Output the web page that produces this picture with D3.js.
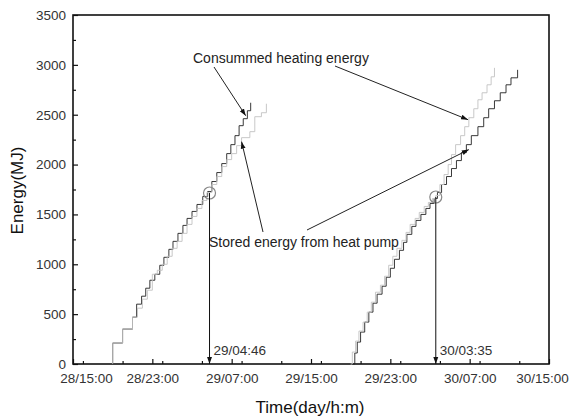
<!DOCTYPE html>
<html>
<head>
<meta charset="utf-8">
<script src="https://cdn.jsdelivr.net/npm/d3@7/dist/d3.min.js"></script>
<style>
  html, body { margin: 0; padding: 0; background: #fff; }
  svg { display: block; }
  text { font-family: "Liberation Sans", Arial, sans-serif; fill: #222; }
</style>
</head>
<body>
<svg id="chart" width="572" height="419"></svg>
<script>
// ---- data -------------------------------------------------------------
// First heating run, 28th evening to 29th morning
const consumedTimes1 = ["28/19:00","28/19:00","28/20:00","28/21:00","28/21:25","28/21:55","28/22:20","28/22:45","28/23:15","28/23:45","29/00:10","29/00:40","29/01:05","29/01:35","29/02:05","29/02:30","29/03:00","29/03:30","29/04:05","29/04:35","29/05:00","29/05:30","29/06:00","29/06:30","29/06:55","29/07:20","29/07:45","29/08:10","29/08:35","29/08:55"];
const consumedValues1 = [0,210,350,470,600,680,760,840,900,990,1070,1150,1230,1310,1390,1460,1530,1600,1680,1730,1830,1920,2010,2110,2200,2290,2390,2460,2540,2620];
const storedTimes1 = ["28/19:00","28/19:00","28/20:00","28/21:00","28/21:30","28/22:00","28/22:30","28/23:00","28/23:30","29/00:00","29/00:30","29/01:00","29/01:30","29/02:00","29/02:30","29/03:00","29/03:30","29/04:00","29/04:30","29/05:00","29/05:30","29/06:00","29/06:30","29/07:00","29/07:30","29/08:00","29/08:50","29/09:20","29/10:00","29/10:30"];
const storedValues1 = [0,210,350,470,560,650,740,900,940,1000,1080,1160,1230,1310,1400,1480,1560,1640,1720,1800,1880,1980,2050,2110,2190,2270,2330,2480,2520,2610];

// Second heating run, 29th evening to 30th morning
const consumedTimes2 = ["29/19:05","29/19:25","29/19:40","29/20:00","29/20:25","29/20:50","29/21:15","29/21:40","29/22:10","29/22:35","29/23:00","29/23:25","29/23:55","30/00:20","30/00:40","30/01:10","30/01:35","30/02:05","30/02:35","30/03:00","30/03:25","30/03:45","30/04:10","30/04:40","30/05:10","30/05:40","30/06:10","30/06:40","30/07:10","30/07:50","30/08:25","30/08:55","30/09:30","30/10:05","30/10:40","30/11:10","30/11:50"];
const consumedValues2 = [0,110,220,320,420,520,610,700,780,870,960,1050,1140,1220,1300,1380,1440,1500,1560,1610,1660,1720,1800,1880,1960,2040,2120,2200,2290,2380,2470,2560,2640,2720,2800,2870,2950];
const storedTimes2 = ["29/19:00","29/19:10","29/19:30","29/19:50","29/20:15","29/20:40","29/21:05","29/21:30","29/22:00","29/22:25","29/22:50","29/23:15","29/23:40","30/00:10","30/00:35","30/01:00","30/01:30","30/01:55","30/02:25","30/02:50","30/03:15","30/03:35","30/04:00","30/04:25","30/04:50","30/05:10","30/05:35","30/06:05","30/06:30","30/06:55","30/07:25","30/07:50","30/08:15","30/08:45","30/09:10","30/09:30"];
const storedValues2 = [0,120,230,330,420,520,620,720,790,880,990,1080,1160,1240,1320,1400,1460,1520,1580,1620,1660,1690,1800,1900,2000,2100,2200,2290,2380,2470,2560,2650,2720,2800,2880,2970];

// Axis ranges and ticks
const timeStart = "28/15:00", timeEnd = "30/15:00";
const xTickLabels = ["28/15:00","28/23:00","29/07:00","29/15:00","29/23:00","30/07:00","30/15:00"];
const energyMax = 3500;
const yTicks = [0,500,1000,1500,2000,2500,3000,3500];

// Marked crossover instants
const markTimes = ["29/04:46","30/03:35"];
const markValues = [1715, 1675];

// ---- layout -----------------------------------------------------------
const svg = d3.select("#chart");
const m = { left: 73, right: 549, top: 15, bottom: 364 };
const parse = d3.timeParse("%d/%H:%M");
const fmt = d3.timeFormat("%d/%H:%M");
const tickFont = 13.5;

const x = d3.scaleTime().domain([parse(timeStart), parse(timeEnd)]).range([m.left, m.right]);
const y = d3.scaleLinear().domain([0, energyMax]).range([m.bottom, m.top]);

// minor ticks every 4 hours, major every 8 hours
const minorTimes = d3.timeHour.every(4).range(parse(timeStart), d3.timeMinute.offset(parse(timeEnd), 1));
const majorTimes = xTickLabels.map(parse);

const xAxisMinor = d3.axisBottom(x).tickValues(minorTimes).tickSize(-3).tickFormat("");
const xAxis = d3.axisBottom(x).tickValues(majorTimes).tickSize(-5).tickPadding(9).tickFormat(fmt);

svg.append("g").attr("transform", `translate(0,${m.bottom})`).call(xAxisMinor)
  .call(g => g.select(".domain").remove())
  .call(g => g.selectAll("line").attr("stroke", "#111").attr("stroke-width", 1.2));
const gx = svg.append("g").attr("transform", `translate(0,${m.bottom})`).call(xAxis);
gx.select(".domain").remove();
gx.selectAll("line").attr("stroke", "#111").attr("stroke-width", 1.2);
gx.selectAll("text").attr("font-size", tickFont).style("fill", "#333");
gx.selectAll("text").filter((d, i) => i === 0).attr("dx", 13);
gx.selectAll("text").filter((d, i, n) => i === n.length - 1).attr("dx", -7);

const yMinor = d3.range(250, energyMax, 500);
svg.append("g").attr("transform", `translate(${m.left},0)`)
  .call(d3.axisLeft(y).tickValues(yMinor).tickSize(-3).tickFormat(""))
  .call(g => g.select(".domain").remove())
  .call(g => g.selectAll("line").attr("stroke", "#111").attr("stroke-width", 1.2));
const gy = svg.append("g").attr("transform", `translate(${m.left},0)`)
  .call(d3.axisLeft(y).tickValues(yTicks).tickSize(-5).tickPadding(7).tickFormat(d3.format("d")));
gy.select(".domain").remove();
gy.selectAll("line").attr("stroke", "#111").attr("stroke-width", 1.2);
gy.selectAll("text").attr("font-size", tickFont).style("fill", "#333");

// frame
svg.append("rect")
  .attr("x", m.left).attr("y", m.top)
  .attr("width", m.right - m.left).attr("height", m.bottom - m.top)
  .attr("fill", "none").attr("stroke", "#111").attr("stroke-width", 1.6);

// axis titles
svg.append("text").attr("x", 310).attr("y", 413)
  .attr("text-anchor", "middle").attr("font-size", 17).style("fill", "#111")
  .text("Time(day/h:m)");
svg.append("text").attr("transform", `translate(23,${(m.top + m.bottom) / 2 + 1}) rotate(-90)`)
  .attr("text-anchor", "middle").attr("font-size", 17).style("fill", "#111")
  .text("Energy(MJ)");

// ---- series -----------------------------------------------------------
const line = d3.line().x(d => x(d[0])).y(d => y(d[1])).curve(d3.curveStepAfter);
const pairs = (ts, vs) => ts.map((t, i) => [parse(t), vs[i]]);

const series = [
  { data: pairs(consumedTimes1, consumedValues1), color: "#222" },
  { data: pairs(consumedTimes2, consumedValues2), color: "#222" },
  { data: pairs(storedTimes1, storedValues1), color: "#c2c2c2" },
  { data: pairs(storedTimes2, storedValues2), color: "#c2c2c2" }
];
svg.append("g").selectAll("path").data(series).join("path")
  .attr("d", d => line(d.data))
  .attr("fill", "none").attr("stroke", d => d.color).attr("stroke-width", 0.9);

// ---- annotations ------------------------------------------------------
const defs = svg.append("defs");
defs.append("marker").attr("id", "head").attr("viewBox", "0 0 10 10")
  .attr("refX", 10).attr("refY", 5).attr("markerWidth", 7).attr("markerHeight", 7)
  .attr("orient", "auto-start-reverse")
  .append("path").attr("d", "M0,1.5 L10,5 L0,8.5 Z").attr("fill", "#111");

markTimes.forEach((t, i) => {
  const cx = x(parse(t)), cy = y(markValues[i]);
  svg.append("circle").attr("cx", cx).attr("cy", cy).attr("r", 6)
    .attr("fill", "none").attr("stroke", "#888").attr("stroke-width", 1.2);
  svg.append("line").attr("x1", cx).attr("y1", cy).attr("x2", cx).attr("y2", m.bottom)
    .attr("stroke", "#111").attr("stroke-width", 1).attr("marker-end", "url(#head)");
  svg.append("text").attr("x", cx + 4).attr("y", m.bottom - 9)
    .attr("font-size", tickFont).style("fill", "#333").text(t);
});

// callout labels with leader arrows
const arrow = (x1, y1, x2, y2) => svg.append("line")
  .attr("x1", x1).attr("y1", y1).attr("x2", x2).attr("y2", y2)
  .attr("stroke", "#222").attr("stroke-width", 1).attr("marker-end", "url(#head)");

svg.append("text").attr("x", 193).attr("y", 63).attr("font-size", 14).style("fill", "#222")
  .text("Consummed heating energy");
arrow(214, 67, x(parse("29/08:25")), y(2490));
arrow(335, 66, x(parse("30/06:50")), y(2450));

svg.append("text").attr("x", 209).attr("y", 247).attr("font-size", 14).style("fill", "#222")
  .text("Stored energy from heat pump");
arrow(263, 232, x(parse("29/08:00")), y(2230));
arrow(307, 230, x(parse("30/06:55")), y(2150));
</script>
</body>
</html>
